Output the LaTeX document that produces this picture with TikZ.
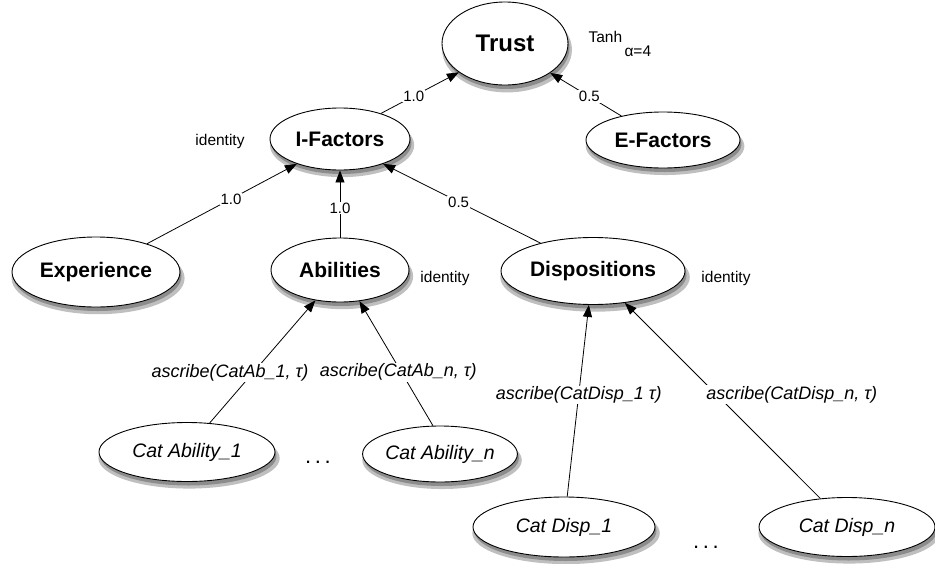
\documentclass[tikz,border=0pt]{standalone}
\usepackage{fontspec}
\setmainfont{Liberation Sans}
\usetikzlibrary{shapes.geometric,arrows.meta,shadows}

\begin{document}
\begin{tikzpicture}[
    x=1pt, y=-1pt,
    factor/.style={ellipse, draw, line width=0.9pt, fill=white, inner sep=0pt,
        general shadow={shadow xshift=2pt, shadow yshift=-6pt, shadow scale=1.03, fill=black!25},
        general shadow={shadow xshift=1.5pt, shadow yshift=-4pt, fill=black!45},
        font=\fontsize{21}{25}\selectfont\bfseries},
    category/.style={factor, font=\fontsize{19.5}{23}\selectfont\itshape},
    link/.style={-{Triangle[length=12pt,width=9pt]}, line width=0.8pt},
    weight/.style={fill=white, inner sep=1pt, font=\fontsize{15}{18}\selectfont},
    ascr/.style={weight, font=\fontsize{18}{21}\selectfont\itshape},
    note/.style={font=\fontsize{15.5}{18}\selectfont}
]
\useasboundingbox (0,0) rectangle (935,563);

\node[factor, minimum width=126pt, minimum height=83pt, font=\fontsize{24}{28}\selectfont\bfseries] (trust) at (505,43.5) {Trust};
\node[factor, minimum width=140pt, minimum height=62pt] (ifac) at (340,139) {I-Factors};
\node[factor, minimum width=154pt, minimum height=56pt] (efac) at (663,140) {E-Factors};
\node[factor, minimum width=168pt, minimum height=70pt] (exper) at (96,272) {Experience};
\node[factor, minimum width=138pt, minimum height=64pt] (abil) at (340,270) {Abilities};
\node[factor, minimum width=184pt, minimum height=67pt] (disp) at (593,271) {Dispositions};

\node[category, minimum width=176pt, minimum height=59pt] (catab1) at (187,452) {Cat Ability\_1};
\node[category, minimum width=154pt, minimum height=56pt] (catabn) at (440,454) {Cat Ability\_n};
\node[category, minimum width=182pt, minimum height=60pt] (catdisp1) at (564,527) {Cat Disp\_1};
\node[category, minimum width=176pt, minimum height=59pt] (catdispn) at (847,527) {Cat Disp\_n};

\node[note] (idifac) at (220,141) {identity};
\node[note] (idabil) at (445,278) {identity};
\node[note] (iddisp) at (726,278) {identity};
\node[note, anchor=west] (tanh) at (585,37) {Tanh};
\node[note, anchor=west] (alpha) at (621,51) {α=4};
\node[note, font=\fontsize{22}{25}\selectfont] (dotsab) at (318,462) {.\,.\,.};
\node[note, font=\fontsize{22}{25}\selectfont] (dotsdisp) at (706,547) {.\,.\,.};

\draw[link] (ifac.32) -- node[weight, pos=0.42] {1.0} (trust.212);
\draw[link] (efac.150) -- node[weight, pos=0.45] {0.5} (trust.327);
\draw[link] (exper.29) -- node[weight, pos=0.56] {1.0} (ifac.210);
\draw[link] (abil.north) -- node[weight, pos=0.44] {1.0} (ifac.south);
\draw[link] (disp.152) -- node[weight, pos=0.52] {0.5} (ifac.330);

\draw[link] (catab1.52) -- node[ascr, pos=0.41, xshift=-23pt] {ascribe(CatAb\_1, τ)} (abil.231);
\draw[link] (catabn.104) -- node[ascr, pos=0.43, xshift=-3pt] {ascribe(CatAb\_n, τ)} (abil.302);
\draw[link] (catdisp1.84) -- node[ascr, pos=0.53] {ascribe(CatDisp\_1 τ)} (disp.263);
\draw[link] (catdispn.133) -- node[ascr, pos=0.53, xshift=75pt] {ascribe(CatDisp\_n, τ)} (disp.315);

\end{tikzpicture}
\end{document}
